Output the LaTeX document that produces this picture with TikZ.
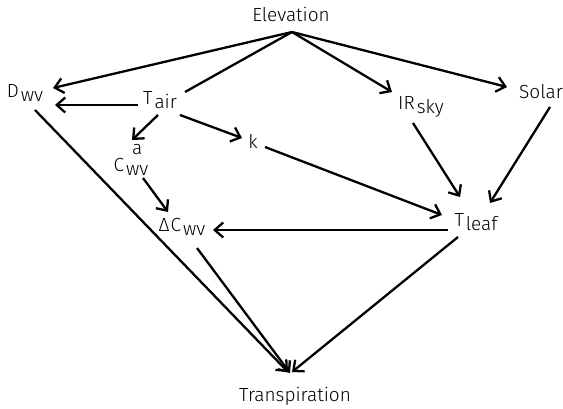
\documentclass[tikz,border=0pt]{standalone}
\usepackage{fontspec}
\usepackage{calc}
\setmainfont{Fira Sans}[UprightFont=* Light]
\usetikzlibrary{arrows.meta}
% lowered subscript set at full size
\newcommand{\lo}[1]{\kern2pt\raisebox{-4.5pt}{#1}}
\begin{document}
\begin{tikzpicture}[x=1pt,y=-1pt,
  lbl/.style={inner sep=0pt, font=\fontsize{19}{22}\selectfont},
  conn/.style={line width=2.3pt},
  arr/.style={conn,-{Straight Barb[length=8.5pt,width=15pt]}}]
\useasboundingbox (0,0) rectangle (563,409);

% variables
\node[lbl] (elev)  at (291,14.5) {Elevation};
\node[lbl] (dwv)   at (25,93)    {D\lo{wv}};
\node[lbl] (tair)  at (160,100)  {T\lo{air}};
\node[lbl] (irsky) at (421,107)  {IR\lo{sky}};
\node[lbl] (solar) at (541,92)   {Solar};
\node[lbl] (k)     at (253,141)  {k};
\node[lbl] (cwva)  at (131,160)  {C\lo{\makebox[0pt][l]{\makebox[\widthof{wv}]{\raisebox{21pt}{a}}}wv}};
\node[lbl] (dcwv)  at (182,227)  {Δ\kern1pt C\lo{wv}};
\node[lbl] (tleaf) at (476,222)  {T\lo{leaf}};
\node[lbl] (trans) at (295,396)  {Transpiration};

% connectors from elevation
\draw[arr]  ([shift={(1,17.5)}]elev.center) -- ([shift={(28,-5)}]dwv.center);
\draw[conn] ([shift={(1,17.5)}]elev.center) -- ([shift={(25,-8)}]tair.center);
\draw[arr]  ([shift={(1,17.5)}]elev.center) -- ([shift={(-29,-15)}]irsky.center);
\draw[arr]  ([shift={(1,17.5)}]elev.center) -- ([shift={(-34,-5)}]solar.center);

% connectors from air temperature
\draw[arr] ([shift={(-22,5)}]tair.center) -- ([shift={(30,12)}]dwv.center);
\draw[arr] ([shift={(-2,15)}]tair.center) -- ([shift={(1,-20)}]cwva.center);
\draw[arr] ([shift={(20,15)}]tair.center) -- ([shift={(-11,-3)}]k.center);

% connectors into leaf temperature
\draw[arr] ([shift={(12,6)}]k.center)      -- ([shift={(-34,-7)}]tleaf.center);
\draw[arr] ([shift={(-8,16)}]irsky.center) -- ([shift={(-16,-25)}]tleaf.center);
\draw[arr] ([shift={(9,15)}]solar.center)  -- ([shift={(14,-19)}]tleaf.center);

% connectors into the vapour gradient
\draw[arr] ([shift={(12,18)}]cwva.center)  -- ([shift={(-14,-15)}]dcwv.center);
\draw[arr] ([shift={(-28,8)}]tleaf.center) -- ([shift={(31,3)}]dcwv.center);

% connectors into transpiration
\draw[arr] ([shift={(10,17)}]dwv.center)    -- ([shift={(-7,-24)}]trans.center);
\draw[arr] ([shift={(15,21)}]dcwv.center)   -- ([shift={(-5,-23)}]trans.center);
\draw[arr] ([shift={(-18,15)}]tleaf.center) -- ([shift={(-3,-24)}]trans.center);
\end{tikzpicture}
\end{document}
